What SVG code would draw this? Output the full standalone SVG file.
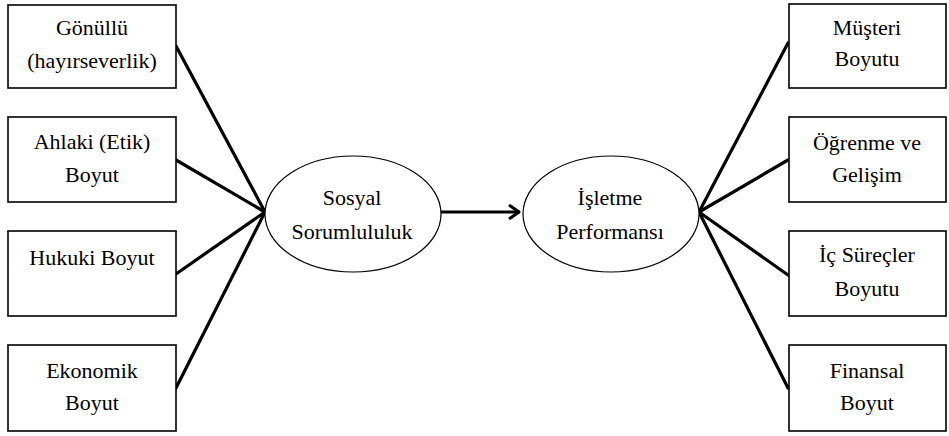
<svg xmlns="http://www.w3.org/2000/svg" width="949" height="436" viewBox="0 0 949 436">
<style>
.box{fill:#fff;stroke:#000;stroke-width:1.6}
.ell{fill:#fff;stroke:#000;stroke-width:1.2}
.t{font-family:'Liberation Serif','Times New Roman',Times,serif;font-size:22px;fill:#000;text-anchor:middle}
.c{stroke:#000;stroke-width:3.2;fill:none;stroke-linecap:round}
</style>
<defs>
<marker id="arr" viewBox="0 0 12 16" refX="11" refY="8" markerWidth="12" markerHeight="16" markerUnits="userSpaceOnUse" orient="auto">
<path d="M1,1 L11,8 L1,15" fill="none" stroke="#000" stroke-width="3"/>
</marker>
</defs>
<g id="connectors">
<line class="c" x1="176" y1="46" x2="265" y2="212"/>
<line class="c" x1="176" y1="160" x2="265" y2="212"/>
<line class="c" x1="176" y1="274" x2="265" y2="212"/>
<line class="c" x1="176" y1="388" x2="265" y2="212"/>
<line class="c" x1="788" y1="43" x2="699" y2="212"/>
<line class="c" x1="788" y1="160" x2="699" y2="212"/>
<line class="c" x1="788" y1="275" x2="699" y2="212"/>
<line class="c" x1="788" y1="388" x2="699" y2="212"/>
<line class="c" x1="441" y1="212" x2="519" y2="212" marker-end="url(#arr)"/>
</g>
<g id="gonullu"><rect class="box" x="8" y="5" width="168" height="83"/><text class="t" x="92" y="35" font-family="Liberation Serif">Gönüllü</text><text class="t" x="92" y="68">(hayırseverlik)</text></g>
<g id="ahlaki"><rect class="box" x="8" y="117" width="168" height="85"/><text class="t" x="92" y="149">Ahlaki (Etik)</text><text class="t" x="92" y="182">Boyut</text></g>
<g id="hukuki"><rect class="box" x="8" y="231" width="168" height="85"/><text class="t" x="92" y="265">Hukuki Boyut</text></g>
<g id="ekonomik"><rect class="box" x="8" y="345" width="168" height="86"/><text class="t" x="92" y="378">Ekonomik</text><text class="t" x="92" y="410">Boyut</text></g>
<g id="sosyal"><ellipse class="ell" cx="353" cy="214" rx="88" ry="58"/><text class="t" x="352" y="205">Sosyal</text><text class="t" x="352" y="239">Sorumlululuk</text></g>
<g id="isletme"><ellipse class="ell" cx="611" cy="214" rx="88" ry="58"/><text class="t" x="610" y="205">İşletme</text><text class="t" x="610" y="239">Performansı</text></g>
<g id="musteri"><rect class="box" x="789" y="4" width="157" height="84"/><text class="t" x="867" y="35">Müşteri</text><text class="t" x="867" y="66">Boyutu</text></g>
<g id="ogrenme"><rect class="box" x="789" y="117" width="157" height="85"/><text class="t" x="867" y="150">Öğrenme ve</text><text class="t" x="867" y="182">Gelişim</text></g>
<g id="surecler"><rect class="box" x="789" y="231" width="157" height="85"/><text class="t" x="867" y="262">İç Süreçler</text><text class="t" x="867" y="296">Boyutu</text></g>
<g id="finansal"><rect class="box" x="789" y="345" width="157" height="86"/><text class="t" x="867" y="378">Finansal</text><text class="t" x="867" y="410">Boyut</text></g>
</svg>
